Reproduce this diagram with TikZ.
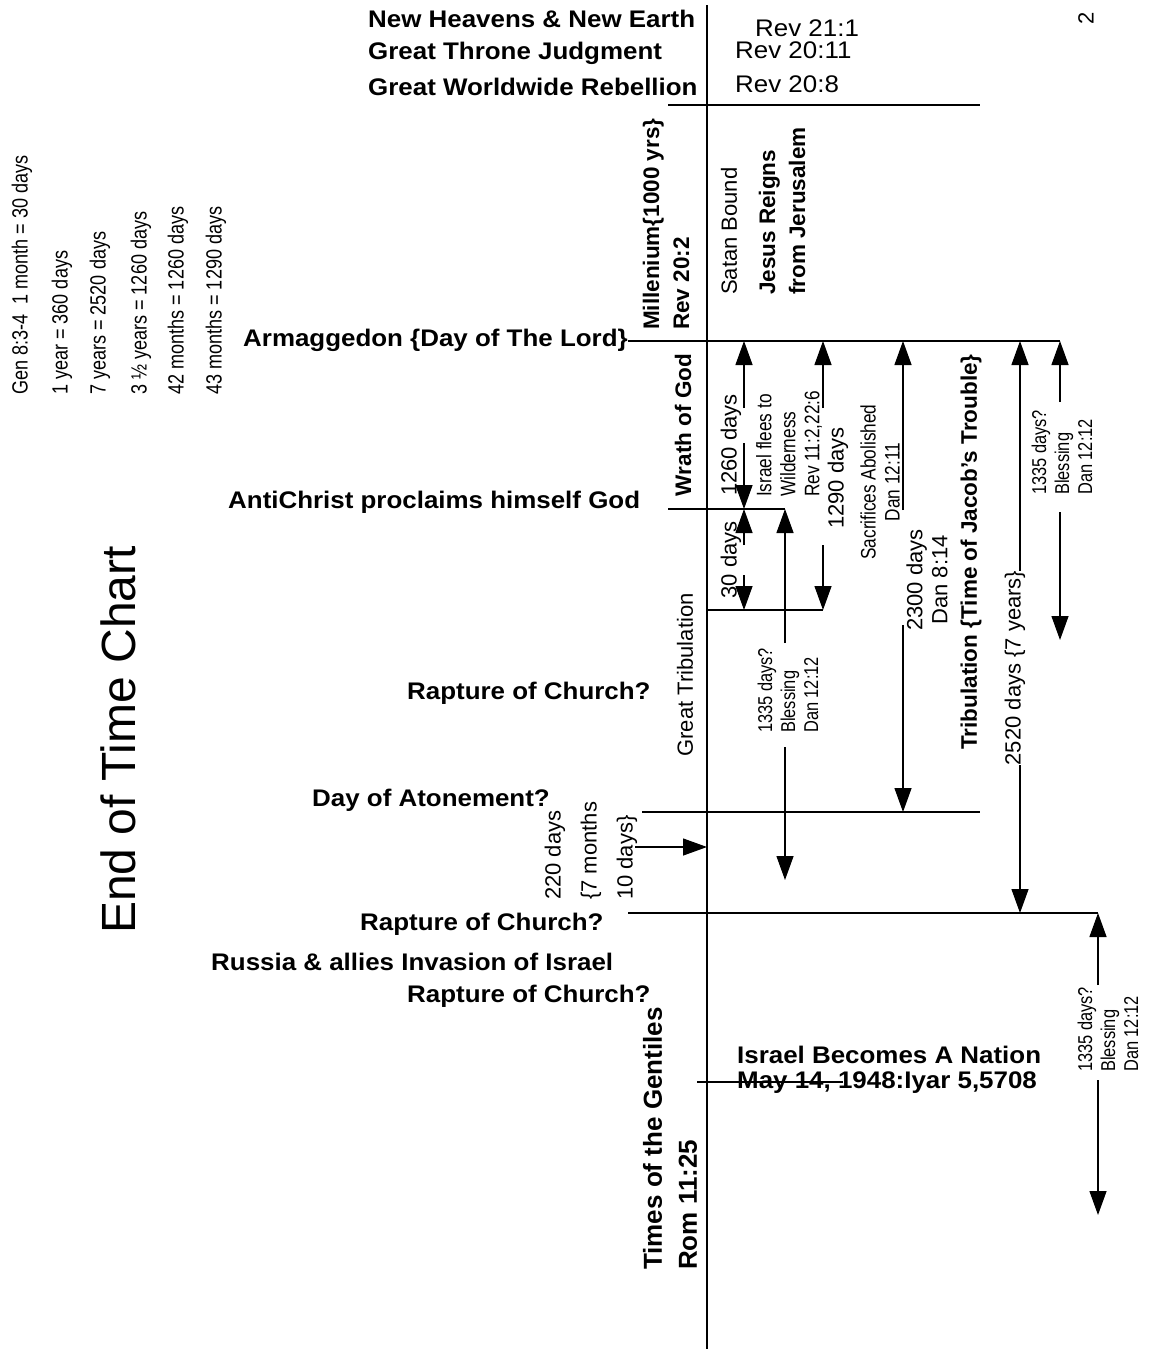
\documentclass[tikz,border=0pt]{standalone}
\usepackage{fontspec}
\setmainfont{Liberation Sans}
\newfontfamily\narrowfam[FakeStretch=0.82]{Liberation Sans}
\newfontfamily\widefam[FakeStretch=1.08]{Liberation Sans}
\usetikzlibrary{arrows.meta}

\begin{document}
\begin{tikzpicture}[x=1pt,y=-1pt,
  hb/.style={font=\widefam\bfseries\fontsize{24}{25}\selectfont,inner sep=0pt,anchor=west},
  hr/.style={font=\widefam\fontsize{24}{25}\selectfont,inner sep=0pt,anchor=west},
  rb/.style={font=\bfseries\fontsize{22.5}{30}\selectfont,inner sep=0pt,rotate=90},
  rr/.style={font=\fontsize{22}{30}\selectfont,inner sep=0pt,rotate=90},
  rn/.style={font=\narrowfam\fontsize{21}{24}\selectfont,inner sep=0pt,rotate=90},
  tick/.style={line width=1.3pt},
  dim/.style={line width=1.3pt,-{Triangle[length=24pt,width=17pt]}},
]
\useasboundingbox (0,0) rectangle (1156,1349);

% time line
\coordinate (top) at (707,5);
\coordinate (bottom) at (707,1349);
\draw[tick] (top) -- (bottom);

\node (title) at (118,740) [rr,font=\fontsize{48}{50}\selectfont] {End of Time Chart};
\node (pgnum) at (1086,18) [rr,font=\fontsize{22}{22}\selectfont] {2};

\node (gen) at (22,395) [rn,anchor=west,font=\narrowfam\fontsize{22}{24}\selectfont] {Gen 8:3-4\ \ 1 month = 30 days};
\node (yr1) at (62,395) [rn,anchor=west,font=\narrowfam\fontsize{22}{24}\selectfont] {1 year = 360 days};
\node (yr7) at (100,395) [rn,anchor=west,font=\narrowfam\fontsize{22}{24}\selectfont] {7 years = 2520 days};
\node (yr35) at (141,395) [rn,anchor=west,font=\narrowfam\fontsize{22}{24}\selectfont] {3 ½ years = 1260 days};
\node (mo42) at (178,395) [rn,anchor=west,font=\narrowfam\fontsize{22}{24}\selectfont] {42 months = 1260 days};
\node (mo43) at (216,395) [rn,anchor=west,font=\narrowfam\fontsize{22}{24}\selectfont] {43 months = 1290 days};

% top of the chart
\node (newheav) at (368,19) [hb] {New Heavens \& New Earth};
\node (throne) at (368,53) [hb] {Great Throne Judgment};
\node (rebel) at (368,87) [hb] {Great Worldwide Rebellion};
\node (rev211) at (755,28) [hr] {Rev 21:1};
\node (rev2011) at (735,50) [hr] {Rev 20:11};
\node (rev208) at (735,84) [hr] {Rev 20:8};
\coordinate (revL) at (668,105);
\coordinate (revR) at (980,105);
\draw[tick] (revL) -- (revR);

\node (mill) at (666,330) [rb,anchor=west,align=left] {Millenium\{1000 yrs\}\\Rev 20:2};
\node (satan) at (729,295) [rr,anchor=west] {Satan Bound};
\node (jesus) at (782,295) [rb,anchor=west,align=left] {Jesus Reigns\\from Jerusalem};

% events
\node (armag) at (243,340) [hb] {Armaggedon \{Day of The Lord\}};
\coordinate (armR) at (1060,341);
\draw[tick] (armag.east |- armR) -- (armR);

\node (anti) at (228,502) [hb] {AntiChrist proclaims himself God};
\coordinate (antiL) at (668,509);
\coordinate (antiR) at (785,509);
\draw[tick] (antiL) -- (antiR);

\coordinate (gtL) at (707,610);
\coordinate (gtR) at (823,610);
\draw[tick] (gtL) -- (gtR);

\node (rapt1) at (407,693) [hb] {Rapture of Church?};
\node (atone) at (312,800) [hb] {Day of Atonement?};
\coordinate (atoneL) at (642,812);
\coordinate (atoneR) at (980,812);
\draw[tick] (atoneL) -- (atoneR);

\node (rapt2) at (360,924) [hb] {Rapture of Church?};
\coordinate (raptL) at (628,913);
\coordinate (raptR) at (1098,913);
\draw[tick] (raptL) -- (raptR);
\node (russia) at (211,962) [hb] {Russia \& allies Invasion of Israel};
\node (rapt3) at (407,996) [hb] {Rapture of Church?};

\node (israel) at (737,1070) [hb,align=left] {Israel Becomes A Nation\\May 14, 1948:Iyar 5,5708};
\coordinate (israelL) at (697,1082);
\coordinate (israelR) at (843,1082);
\draw[tick] (israelL) -- (israelR);

\node (gentiles) at (670,1270) [rb,anchor=west,align=left,font=\bfseries\fontsize{26}{35}\selectfont] {Times of the Gentiles\\Rom 11:25};

\node (wrath) at (683,425) [rb] {Wrath of God};
\node (gtrib) at (685,675) [rr] {Great Tribulation};
\node (trib) at (971,552) [rb] {Tribulation \{Time of Jacob's Trouble\}};

% spans
\node (d1260) at (731,445) [rr] {1260 days};
\coordinate (t1260) at (744,341);
\coordinate (u1260) at (744,408);
\coordinate (l1260) at (744,443);
\coordinate (b1260) at (744,509);
\draw[dim] (u1260) -- (t1260);
\draw[dim] (l1260) -- (b1260);
\node (flees) at (789,497) [rn,anchor=west,align=left] {Israel flees to\\Wilderness\\Rev 11:2,22:6};

\node (d30) at (731,560) [rr] {30 days};
\coordinate (t30) at (744,509);
\coordinate (u30) at (744,545);
\coordinate (l30) at (744,575);
\coordinate (b30) at (744,610);
\draw[dim] (u30) -- (t30);
\draw[dim] (l30) -- (b30);

\node (d1290) at (838,478) [rr] {1290 days};
\coordinate (t1290) at (823,341);
\coordinate (u1290) at (823,408);
\coordinate (l1290) at (823,545);
\coordinate (b1290) at (823,610);
\draw[dim] (u1290) -- (t1290);
\draw[dim] (l1290) -- (b1290);
\node (sacr) at (880,482) [rn,align=center] {Sacrifices Abolished\\Dan 12:11};

\node (d2300) at (927,580) [rr,align=center,font=\fontsize{22}{25}\selectfont] {2300 days\\Dan 8:14};
\coordinate (t2300) at (903,341);
\coordinate (u2300) at (903,510);
\coordinate (l2300) at (903,625);
\coordinate (b2300) at (903,812);
\draw[dim] (u2300) -- (t2300);
\draw[dim] (l2300) -- (b2300);

\node (d2520) at (1015,668) [rr] {2520 days \{7 years\}};
\coordinate (t2520) at (1020,341);
\coordinate (b2520) at (1020,913);
\draw[dim] (d2520.east -| t2520) -- (t2520);
\draw[dim] (d2520.west -| t2520) -- (b2520);

\node (bless1) at (1062,495) [rn,anchor=west,align=left,font=\narrowfam\fontsize{20}{23}\selectfont] {1335 days?\\Blessing\\Dan 12:12};
\coordinate (t1335a) at (1060,341);
\coordinate (u1335a) at (1060,402);
\coordinate (l1335a) at (1060,512);
\coordinate (b1335a) at (1060,640);
\draw[dim] (u1335a) -- (t1335a);
\draw[dim] (l1335a) -- (b1335a);

\node (bless2) at (788,733) [rn,anchor=west,align=left,font=\narrowfam\fontsize{20}{23}\selectfont] {1335 days?\\Blessing\\Dan 12:12};
\coordinate (u1335b) at (785,643);
\coordinate (l1335b) at (785,747);
\coordinate (b1335b) at (785,880);
\draw[dim] (u1335b) -- (antiR);
\draw[dim] (l1335b) -- (b1335b);

\node (bless3) at (1108,1072) [rn,anchor=west,align=left,font=\narrowfam\fontsize{20}{23}\selectfont] {1335 days?\\Blessing\\Dan 12:12};
\coordinate (u1335c) at (1098,985);
\coordinate (l1335c) at (1098,1080);
\coordinate (b1335c) at (1098,1215);
\draw[dim] (u1335c) -- (raptR);
\draw[dim] (l1335c) -- (b1335c);

\node (d220) at (591,900) [rr,anchor=west,align=left,font=\fontsize{22}{36}\selectfont] {220 days\\\{7 months\\10 days\}};
\coordinate (a10L) at (635,847);
\coordinate (a10R) at (707,847);
\draw[dim] (a10L) -- (a10R);
\end{tikzpicture}
\end{document}
